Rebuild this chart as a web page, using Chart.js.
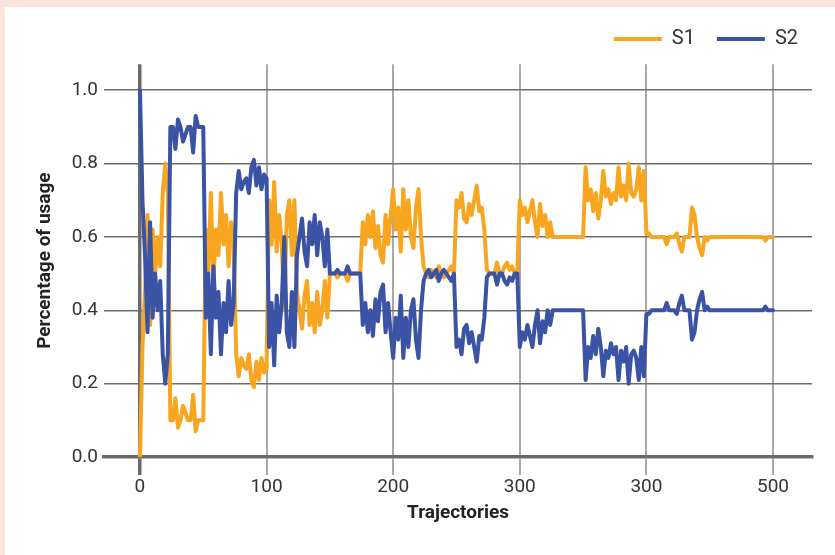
<!DOCTYPE html>
<html>
<head>
<meta charset="utf-8">
<script src="https://cdn.jsdelivr.net/npm/chart.js@4.4.1/dist/chart.umd.min.js"></script>
<style>
  html, body { margin: 0; padding: 0; background: #f9e3da; }
  #wrap { position: absolute; left: 5px; top: 7px; width: 830px; height: 548px; background: #fff; }
</style>
</head>
<body>
<div id="wrap"><canvas id="usageChart" width="830" height="548"></canvas></div>
<script>
// trajectory index (every 2nd trajectory)
const trajectories = [
  0, 2, 4, 6, 8, 10, 12, 14, 16, 18, 20, 22, 24, 26, 28, 30, 32, 34, 36, 38,
  40, 42, 44, 46, 48, 50, 52, 54, 56, 58, 60, 62, 64, 66, 68, 70, 72, 74, 76, 78,
  80, 82, 84, 86, 88, 90, 92, 94, 96, 98, 100, 102, 104, 106, 108, 110, 112, 114, 116, 118,
  120, 122, 124, 126, 128, 130, 132, 134, 136, 138, 140, 142, 144, 146, 148, 150, 152, 154, 156, 158,
  160, 162, 164, 166, 168, 170, 172, 174, 176, 178, 180, 182, 184, 186, 188, 190, 192, 194, 196, 198,
  200, 202, 204, 206, 208, 210, 212, 214, 216, 218, 220, 222, 224, 226, 228, 230, 232, 234, 236, 238,
  240, 242, 244, 246, 248, 250, 252, 254, 256, 258, 260, 262, 264, 266, 268, 270, 272, 274, 276, 278,
  280, 282, 284, 286, 288, 290, 292, 294, 296, 298, 300, 302, 304, 306, 308, 310, 312, 314, 316, 318,
  320, 322, 324, 326, 328, 330, 332, 334, 336, 338, 340, 342, 344, 346, 348, 350, 352, 354, 356, 358,
  360, 362, 364, 366, 368, 370, 372, 374, 376, 378, 380, 382, 384, 386, 388, 390, 392, 394, 396, 398,
  400, 402, 404, 406, 408, 410, 412, 414, 416, 418, 420, 422, 424, 426, 428, 430, 432, 434, 436, 438,
  440, 442, 444, 446, 448, 450, 452, 454, 456, 458, 460, 462, 464, 466, 468, 470, 472, 474, 476, 478,
  480, 482, 484, 486, 488, 490, 492, 494, 496, 498, 500
];

const s1 = [
  0.00, 0.30, 0.45, 0.66, 0.36, 0.62, 0.50, 0.60, 0.52, 0.72,
  0.80, 0.72, 0.10, 0.10, 0.16, 0.08, 0.10, 0.14, 0.12, 0.10,
  0.10, 0.17, 0.07, 0.10, 0.10, 0.10, 0.62, 0.50, 0.72, 0.48,
  0.62, 0.55, 0.72, 0.58, 0.66, 0.52, 0.64, 0.58, 0.28, 0.22,
  0.27, 0.25, 0.24, 0.28, 0.21, 0.19, 0.26, 0.21, 0.27, 0.23,
  0.24, 0.70, 0.58, 0.75, 0.56, 0.66, 0.58, 0.40, 0.66, 0.70,
  0.55, 0.70, 0.45, 0.40, 0.35, 0.44, 0.48, 0.36, 0.42, 0.34,
  0.45, 0.36, 0.40, 0.48, 0.38, 0.50, 0.50, 0.50, 0.49, 0.50,
  0.50, 0.50, 0.48, 0.50, 0.50, 0.50, 0.50, 0.50, 0.64, 0.58,
  0.66, 0.60, 0.67, 0.57, 0.63, 0.55, 0.53, 0.66, 0.58, 0.66,
  0.73, 0.62, 0.68, 0.56, 0.73, 0.62, 0.70, 0.60, 0.57, 0.68,
  0.73, 0.60, 0.52, 0.50, 0.49, 0.51, 0.50, 0.49, 0.52, 0.50,
  0.49, 0.50, 0.51, 0.52, 0.50, 0.70, 0.68, 0.72, 0.65, 0.64,
  0.69, 0.66, 0.70, 0.74, 0.67, 0.68, 0.62, 0.51, 0.50, 0.50,
  0.50, 0.53, 0.50, 0.50, 0.52, 0.53, 0.51, 0.52, 0.50, 0.50,
  0.70, 0.66, 0.68, 0.64, 0.67, 0.70, 0.64, 0.60, 0.69, 0.63,
  0.66, 0.60, 0.64, 0.60, 0.60, 0.60, 0.60, 0.60, 0.60, 0.60,
  0.60, 0.60, 0.60, 0.60, 0.60, 0.60, 0.79, 0.70, 0.73, 0.67,
  0.72, 0.65, 0.70, 0.78, 0.71, 0.73, 0.69, 0.72, 0.70, 0.79,
  0.71, 0.74, 0.70, 0.80, 0.72, 0.71, 0.73, 0.79, 0.70, 0.78,
  0.61, 0.61, 0.60, 0.60, 0.60, 0.60, 0.60, 0.60, 0.58, 0.60,
  0.60, 0.60, 0.61, 0.58, 0.56, 0.60, 0.60, 0.60, 0.68, 0.66,
  0.60, 0.57, 0.55, 0.60, 0.59, 0.60, 0.60, 0.60, 0.60, 0.60,
  0.60, 0.60, 0.60, 0.60, 0.60, 0.60, 0.60, 0.60, 0.60, 0.60,
  0.60, 0.60, 0.60, 0.60, 0.60, 0.60, 0.60, 0.59, 0.60, 0.60,
  0.60
];

const s2 = [
  1.00, 0.70, 0.55, 0.34, 0.64, 0.38, 0.50, 0.40, 0.48, 0.28,
  0.20, 0.28, 0.90, 0.90, 0.84, 0.92, 0.90, 0.86, 0.88, 0.90,
  0.90, 0.83, 0.93, 0.90, 0.90, 0.90, 0.38, 0.50, 0.28, 0.52,
  0.38, 0.45, 0.28, 0.42, 0.34, 0.48, 0.36, 0.42, 0.72, 0.78,
  0.73, 0.75, 0.76, 0.72, 0.79, 0.81, 0.74, 0.79, 0.73, 0.77,
  0.76, 0.30, 0.42, 0.25, 0.44, 0.34, 0.42, 0.60, 0.34, 0.30,
  0.45, 0.30, 0.55, 0.60, 0.65, 0.56, 0.52, 0.64, 0.58, 0.66,
  0.55, 0.64, 0.60, 0.52, 0.62, 0.50, 0.50, 0.50, 0.51, 0.50,
  0.50, 0.50, 0.52, 0.50, 0.50, 0.50, 0.50, 0.50, 0.36, 0.42,
  0.34, 0.40, 0.33, 0.43, 0.37, 0.45, 0.47, 0.34, 0.42, 0.34,
  0.27, 0.38, 0.32, 0.44, 0.27, 0.38, 0.30, 0.40, 0.43, 0.32,
  0.27, 0.40, 0.48, 0.50, 0.51, 0.49, 0.50, 0.51, 0.48, 0.50,
  0.51, 0.50, 0.49, 0.48, 0.50, 0.30, 0.32, 0.28, 0.35, 0.36,
  0.31, 0.34, 0.30, 0.26, 0.33, 0.32, 0.38, 0.49, 0.50, 0.50,
  0.50, 0.47, 0.50, 0.50, 0.48, 0.47, 0.49, 0.48, 0.50, 0.50,
  0.30, 0.34, 0.32, 0.36, 0.33, 0.30, 0.36, 0.40, 0.31, 0.37,
  0.34, 0.40, 0.36, 0.40, 0.40, 0.40, 0.40, 0.40, 0.40, 0.40,
  0.40, 0.40, 0.40, 0.40, 0.40, 0.40, 0.21, 0.30, 0.27, 0.33,
  0.28, 0.35, 0.30, 0.22, 0.29, 0.27, 0.31, 0.28, 0.30, 0.21,
  0.29, 0.26, 0.30, 0.20, 0.28, 0.29, 0.27, 0.21, 0.30, 0.22,
  0.39, 0.39, 0.40, 0.40, 0.40, 0.40, 0.40, 0.40, 0.42, 0.40,
  0.40, 0.40, 0.39, 0.42, 0.44, 0.40, 0.40, 0.40, 0.32, 0.34,
  0.40, 0.43, 0.45, 0.40, 0.41, 0.40, 0.40, 0.40, 0.40, 0.40,
  0.40, 0.40, 0.40, 0.40, 0.40, 0.40, 0.40, 0.40, 0.40, 0.40,
  0.40, 0.40, 0.40, 0.40, 0.40, 0.40, 0.40, 0.41, 0.40, 0.40,
  0.40
];

// axis ticks (the source figure really labels the 4th tick "300" too)
const xTickValues = [0, 100, 200, 300, 400, 500];
const xTickLabels = ['0', '100', '200', '300', '300', '500'];
const yTickValues = [0, 0.2, 0.4, 0.6, 0.8, 1.0];

const toPoints = ys => ys.map((v, i) => ({ x: trajectories[i], y: v }));
const font = 'Roboto, "Liberation Sans", sans-serif';

new Chart(document.getElementById('usageChart'), {
  type: 'line',
  data: {
    datasets: [
      { label: 'S1', data: toPoints(s1), borderColor: '#f8a51f', backgroundColor: '#f8a51f', borderWidth: 4, order: 1 },
      { label: 'S2', data: toPoints(s2), borderColor: '#3a53a4', backgroundColor: '#3a53a4', borderWidth: 4, order: 0 }
    ]
  },
  options: {
    responsive: false,
    animation: false,
    layout: { padding: { top: 0, right: 15, bottom: 0, left: 0 } },
    elements: {
      line: { tension: 0, borderJoinStyle: 'round', borderCapStyle: 'round' },
      point: { radius: 0, hoverRadius: 0 }
    },
    plugins: {
      legend: {
        position: 'top',
        align: 'end',
        labels: {
          usePointStyle: true,
          pointStyle: 'line',
          pointStyleWidth: 48,
          padding: 22,
          color: '#333',
          font: { family: font, size: 20 },
          sort: (a, b) => a.datasetIndex - b.datasetIndex
        }
      },
      // empty spacer between legend and plot
      subtitle: {
        display: true,
        text: ' ',
        weight: 500,
        font: { size: 1 },
        padding: { top: 4, bottom: 0 }
      },
      tooltip: { enabled: false }
    },
    scales: {
      x: {
        type: 'linear',
        min: -28.4,
        max: 530.8,
        afterBuildTicks: scale => { scale.ticks = xTickValues.map(v => ({ value: v })); },
        afterFit: scale => { scale.height = 98; },
        border: { display: true, color: '#6a6a6a', width: 3.5 },
        grid: {
          tickLength: 18,
          color: ctx => ctx.tick && ctx.tick.value === 0 ? '#6a6a6a' : '#a8a8a8',
          lineWidth: ctx => ctx.tick && ctx.tick.value === 0 ? 3.5 : 2
        },
        ticks: {
          padding: 1,
          color: '#333',
          font: { family: font, size: 19 },
          callback: (v, i) => xTickLabels[i]
        },
        title: {
          display: true,
          text: 'Trajectories',
          color: '#222',
          font: { family: font, size: 19, weight: 'bold' },
          padding: { top: 0, bottom: 30 }
        }
      },
      y: {
        min: 0,
        max: 1.071,
        afterBuildTicks: scale => { scale.ticks = yTickValues.map(v => ({ value: v })); },
        afterFit: scale => { scale.width = 99; },
        border: { display: false },
        grid: {
          drawTicks: false,
          color: ctx => ctx.tick && ctx.tick.value === 0 ? 'rgba(0,0,0,0)' : '#6e6e6e',
          lineWidth: 1.5
        },
        ticks: {
          padding: 6,
          color: '#333',
          font: { family: font, size: 19 },
          callback: v => v.toFixed(1)
        },
        title: {
          display: true,
          text: 'Percentage of usage',
          color: '#222',
          font: { family: font, size: 19, weight: 'bold' },
          padding: { top: 28.6, bottom: 0 }
        }
      },
      // thin empty strip on the right so the legend sits further right than the plot edge
      yRight: {
        position: 'right',
        display: true,
        afterFit: scale => { scale.width = 8; },
        grid: { display: false },
        border: { display: false },
        ticks: { display: false }
      }
    }
  }
});
</script>
</body>
</html>
